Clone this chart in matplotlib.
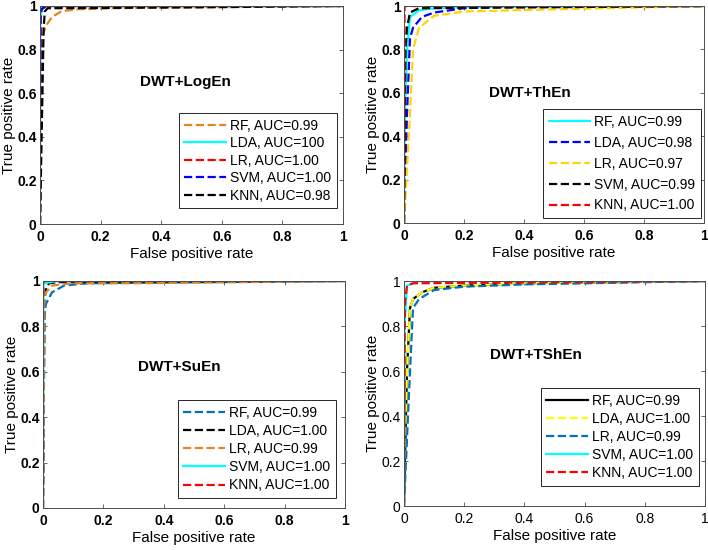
# -*- coding: utf-8 -*-

# ROC curves for four DWT entropy feature sets

import numpy as np
import matplotlib
matplotlib.use('Agg')
import matplotlib.pyplot as plt

plt.rcParams['font.family'] = ['Liberation Sans', 'DejaVu Sans']

# ---- data: (fpr, tpr) points ----
# DWT+LogEn
logen_rf_fpr = [0, 0.005, 0.01, 0.02, 0.04, 0.07, 0.12, 0.25, 1]
logen_rf_tpr = [0, 0.80, 0.87, 0.91, 0.95, 0.975, 0.985, 0.99, 1]
logen_lda_fpr = [0, 0.001, 0.005, 0.02, 1]
logen_lda_tpr = [0, 0.9, 0.99, 1, 1]
logen_lr_fpr = [0, 0.002, 0.005, 0.02, 1]
logen_lr_tpr = [0, 0.95, 0.985, 1, 1]
logen_svm_fpr = [0, 0.002, 0.005, 0.02, 1]
logen_svm_tpr = [0, 0.95, 0.985, 1, 1]
logen_knn_fpr = [0, 0.012, 0.016, 0.025, 0.1, 0.6, 1]
logen_knn_tpr = [0, 0.9, 0.975, 0.99, 0.99, 0.995, 1]

# DWT+ThEn
then_rf_fpr = [0, 0.003, 0.01, 0.02, 0.05, 0.1, 0.2, 1]
then_rf_tpr = [0, 0.5, 0.8, 0.95, 0.98, 0.99, 0.995, 1]
then_lda_fpr = [0, 0.01, 0.02, 0.03, 0.06, 0.1, 0.2, 0.3, 1]
then_lda_tpr = [0, 0.5, 0.85, 0.9, 0.95, 0.97, 0.99, 0.995, 1]
then_lr_fpr = [0, 0.02, 0.03, 0.05, 0.1, 0.2, 0.5, 1]
then_lr_tpr = [0, 0.5, 0.8, 0.9, 0.955, 0.975, 0.985, 1]
then_svm_fpr = [0, 0.005, 0.01, 0.02, 0.05, 1]
then_svm_tpr = [0, 0.8, 0.9, 0.97, 0.99, 1]
then_knn_fpr = [0, 0.002, 1]
then_knn_tpr = [0, 1, 1]

# DWT+SuEn
suen_rf_fpr = [0, 0.005, 0.01, 0.03, 0.07, 0.15, 1]
suen_rf_tpr = [0, 0.85, 0.9, 0.95, 0.98, 0.99, 1]
suen_lda_fpr = [0, 0.005, 0.02, 0.05, 1]
suen_lda_tpr = [0, 0.95, 0.99, 0.995, 1]
suen_lr_fpr = [0, 0.005, 0.01, 0.03, 0.1, 0.3, 1]
suen_lr_tpr = [0, 0.9, 0.95, 0.98, 0.99, 0.99, 1]
suen_svm_fpr = [0, 0.002, 0.05, 1]
suen_svm_tpr = [0, 0.99, 1, 1]
suen_knn_fpr = [0, 0.001, 1]
suen_knn_tpr = [0, 1, 1]

# DWT+TShEn
tshen_rf_fpr = [0, 0.01, 0.02, 0.03, 0.06, 0.1, 0.2, 0.4, 1]
tshen_rf_tpr = [0, 0.6, 0.88, 0.92, 0.95, 0.97, 0.98, 0.99, 1]
tshen_lda_fpr = [0, 0.01, 0.02, 0.03, 0.06, 0.1, 0.2, 0.4, 1]
tshen_lda_tpr = [0, 0.6, 0.88, 0.92, 0.95, 0.97, 0.98, 0.99, 1]
tshen_lr_fpr = [0, 0.02, 0.03, 0.05, 0.1, 0.2, 0.4, 1]
tshen_lr_tpr = [0, 0.6, 0.88, 0.92, 0.96, 0.975, 0.985, 1]
tshen_svm_fpr = [0, 0.002, 0.01, 0.05, 1]
tshen_svm_tpr = [0, 0.8, 0.98, 1, 1]
tshen_knn_fpr = [0, 0.003, 0.01, 0.03, 1]
tshen_knn_tpr = [0, 0.9, 0.98, 0.99, 1]

ORANGE = '#E5851F'
MBLUE = '#0072BD'
GOLD = '#FFD400'

panels = [
	dict(rect=[0.0565, 0.5927, 0.428, 0.3964], title='DWT+LogEn', tpos=(0.48, 0.65),
		bold=True, leg=(0.98, 0.073), lspace=0.25,
		curves=[(logen_rf_fpr, logen_rf_tpr, ORANGE, '--', 'RF, AUC=0.99'),
				(logen_lda_fpr, logen_lda_tpr, 'cyan', '-', 'LDA, AUC=100'),
				(logen_lr_fpr, logen_lr_tpr, 'red', '--', 'LR, AUC=1.00'),
				(logen_svm_fpr, logen_svm_tpr, 'blue', '--', 'SVM, AUC=1.00'),
				(logen_knn_fpr, logen_knn_tpr, 'black', '--', 'KNN, AUC=0.98')]),
	dict(rect=[0.5706, 0.5945, 0.4237, 0.3945], title='DWT+ThEn', tpos=(0.42, 0.60),
		bold=True, leg=(0.99, 0.023), lspace=0.5,
		curves=[(then_rf_fpr, then_rf_tpr, 'cyan', '-', 'RF, AUC=0.99'),
				(then_lda_fpr, then_lda_tpr, 'blue', '--', 'LDA, AUC=0.98'),
				(then_lr_fpr, then_lr_tpr, GOLD, '--', 'LR, AUC=0.97'),
				(then_svm_fpr, then_svm_tpr, 'black', '--', 'SVM, AUC=0.99'),
				(then_knn_fpr, then_knn_tpr, 'red', '--', 'KNN, AUC=1.00')]),
	dict(rect=[0.0607, 0.0764, 0.4266, 0.4127], title='DWT+SuEn', tpos=(0.45, 0.62),
		bold=True, leg=(0.97, 0.044), lspace=0.3,
		curves=[(suen_rf_fpr, suen_rf_tpr, MBLUE, '--', 'RF, AUC=0.99'),
				(suen_lda_fpr, suen_lda_tpr, 'black', '--', 'LDA, AUC=1.00'),
				(suen_lr_fpr, suen_lr_tpr, ORANGE, '--', 'LR, AUC=0.99'),
				(suen_svm_fpr, suen_svm_tpr, 'cyan', '-', 'SVM, AUC=1.00'),
				(suen_knn_fpr, suen_knn_tpr, 'red', '--', 'KNN, AUC=1.00')]),
	dict(rect=[0.5706, 0.08, 0.4251, 0.409], title='DWT+TShEn', tpos=(0.44, 0.67),
		bold=False, leg=(0.98, 0.09), lspace=0.3,
		curves=[(tshen_rf_fpr, tshen_rf_tpr, 'black', '-', 'RF, AUC=0.99'),
				(tshen_lda_fpr, tshen_lda_tpr, 'yellow', '--', 'LDA, AUC=1.00'),
				(tshen_lr_fpr, tshen_lr_tpr, MBLUE, '--', 'LR, AUC=0.99'),
				(tshen_svm_fpr, tshen_svm_tpr, 'cyan', '-', 'SVM, AUC=1.00'),
				(tshen_knn_fpr, tshen_knn_tpr, 'red', '--', 'KNN, AUC=1.00')]),
]

fig = plt.figure(figsize=(7.08, 5.5), dpi=100)

for p in panels:
	ax = fig.add_axes(p['rect'])
	for fx, ty, c, ls, lab in p['curves']:
		ax.plot(fx, ty, color=c, linestyle=ls, linewidth=1.6, label=lab)
	ax.set_xlim(0, 1)
	ax.set_ylim(0, 1)
	ticks = [0, 0.2, 0.4, 0.6, 0.8, 1]
	ticklabs = ['0', '0.2', '0.4', '0.6', '0.8', '1']
	ax.set_xticks(ticks)
	ax.set_xticklabels(ticklabs)
	ax.set_yticks(ticks)
	ax.set_yticklabels(ticklabs)
	w = 'bold' if p['bold'] else 'normal'
	for t in ax.get_xticklabels() + ax.get_yticklabels():
		t.set_fontweight(w)
		t.set_fontsize(10)
	ax.tick_params(direction='in', length=3, width=0.6, color='0.3',
		top=True, right=True)
	ax.tick_params(axis='x', pad=4.5)
	ax.tick_params(axis='y', pad=2.5)
	for s in ax.spines.values():
		s.set_linewidth(0.7)
		s.set_color('0.3')
	ax.set_xlabel('False positive rate', fontsize=11, labelpad=2)
	ax.set_ylabel('True positive rate', fontsize=11, labelpad=1)
	ax.text(p['tpos'][0], p['tpos'][1], p['title'], transform=ax.transAxes,
		ha='center', va='center', fontsize=11, fontweight='bold')
	leg = ax.legend(loc='lower right', bbox_to_anchor=p['leg'], fontsize=10,
		frameon=True, fancybox=False, edgecolor='0.15', framealpha=1,
		handlelength=3.0, labelspacing=p['lspace'], borderaxespad=0,
		handletextpad=0.3, borderpad=0.4)
	leg.get_frame().set_linewidth(0.7)

plt.savefig('out.png', dpi=100)
